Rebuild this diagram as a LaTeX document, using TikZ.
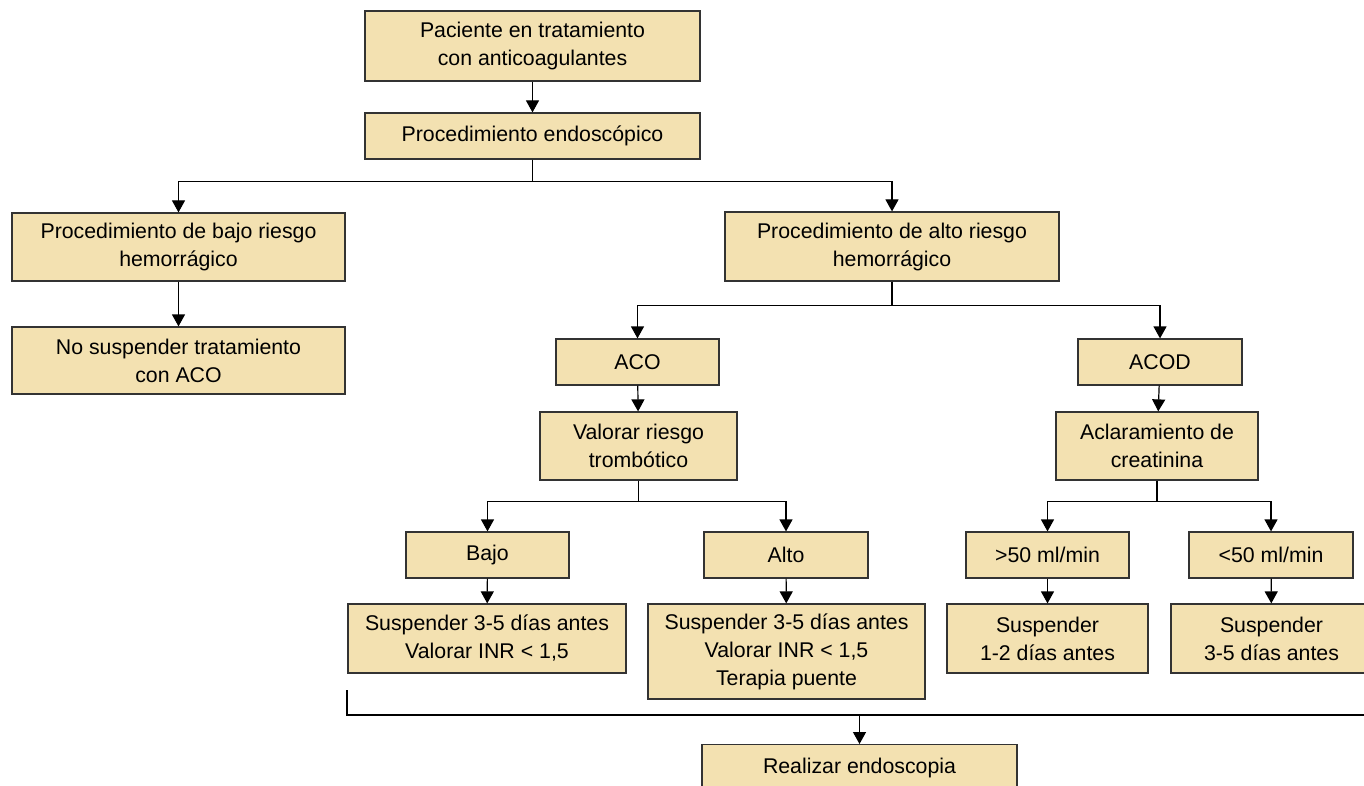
\documentclass[tikz,border=0pt]{standalone}
\usepackage{fontspec}
\setmainfont{Liberation Sans}
\usetikzlibrary{arrows.meta}
\definecolor{boxfill}{HTML}{F3E1B1}
\definecolor{boxline}{HTML}{333333}
\begin{document}
\begin{tikzpicture}[x=1pt,y=-1pt,
  box/.style={draw=boxline,fill=boxfill,line width=1.2pt,inner sep=0pt,align=center,
    font=\fontsize{21.3}{28}\selectfont},
  arr/.style={draw=black,line width=1.2pt,-{Triangle[width=13pt,length=12pt]}},
  ln/.style={draw=black,line width=1.2pt}]
\useasboundingbox (0,0) rectangle (1364,786);
\clip (0,0) rectangle (1364,786);
\fill[white] (0,0) rectangle (1364,786);
% nodes
\node[box,minimum width=335pt,minimum height=70pt] (top) at (532.5,46) {Paciente en tratamiento\\con anticoagulantes};
\node[box,minimum width=335pt,minimum height=46pt] (endo) at (532.5,136) {Procedimiento endoscópico};
\node[box,minimum width=333pt,minimum height=68pt] (bajoR) at (178.5,247) {Procedimiento de bajo riesgo\\hemorrágico};
\node[box,minimum width=333pt,minimum height=67pt] (nosusp) at (178.5,360.5) {No suspender tratamiento\\con ACO};
\node[box,minimum width=334pt,minimum height=69pt] (altoR) at (892,246.5) {Procedimiento de alto riesgo\\hemorrágico};
\node[box,minimum width=163pt,minimum height=46pt] (aco) at (637.5,362) {ACO};
\node[box,minimum width=197pt,minimum height=68pt] (valorar) at (638.5,446) {Valorar riesgo\\trombótico};
\node[box,minimum width=164pt,minimum height=46pt] (acod) at (1160,362) {ACOD};
\node[box,minimum width=202pt,minimum height=68pt] (aclar) at (1157,446) {Aclaramiento de\\creatinina};
\node[box,minimum width=163pt,minimum height=46pt] (bajo) at (487.5,555) {Bajo};
\node[box,minimum width=164pt,minimum height=46pt] (alto) at (786,555) {Alto};
\node[box,minimum width=163pt,minimum height=46pt] (gt) at (1047.5,555) {>50 ml/min};
\node[box,minimum width=164pt,minimum height=46pt] (lt) at (1271,555) {<50 ml/min};
\node[box,minimum width=278pt,minimum height=69pt] (s1) at (487,638.5) {Suspender 3-5 días antes\\Valorar INR < 1,5};
\node[box,minimum width=277pt,minimum height=95pt] (s2) at (786.5,651.5) {Suspender 3-5 días antes\\Valorar INR < 1,5\\Terapia puente};
\node[box,minimum width=201pt,minimum height=69pt] (s3) at (1047.5,638.5) {Suspender\\1-2 días antes};
\node[box,minimum width=201pt,minimum height=69pt] (s4) at (1271.5,638.5) {Suspender\\3-5 días antes};
\node[box,minimum width=315pt,minimum height=46pt,anchor=north] (real) at (859.5,744) {Realizar endoscopia};
% connectors
\draw[arr] (top) -- (endo);
\draw[arr] (endo.south) -- ++(0,22) -| (bajoR.north);
\draw[arr] (endo.south) -- ++(0,22) -| (altoR.north);
\draw[arr] (bajoR) -- (nosusp);
\draw[arr] (altoR.south) -- ++(0,24) -| (aco.north);
\draw[arr] (altoR.south) -- ++(0,24) -| (acod.north);
\draw[arr] (aco) -- (valorar);
\draw[arr] (acod) -- (aclar);
\draw[arr] (valorar.south) -- ++(0,21) -| (bajo.north);
\draw[arr] (valorar.south) -- ++(0,21) -| (alto.north);
\draw[arr] (aclar.south) -- ++(0,21) -| (gt.north);
\draw[arr] (aclar.south) -- ++(0,21) -| (lt.north);
\draw[arr] (bajo) -- (s1);
\draw[arr] (alto) -- (s2);
\draw[arr] (gt) -- (s3);
\draw[arr] (lt) -- (s4);
\coordinate (bstart) at (347,690);
\coordinate (bcorner) at (347,715);
\coordinate (bend) at (1366,715);
\draw[ln] (bstart) -- (bcorner) -- (bend);
\draw[arr] (real.north |- bcorner) -- (real.north);
\end{tikzpicture}
\end{document}
